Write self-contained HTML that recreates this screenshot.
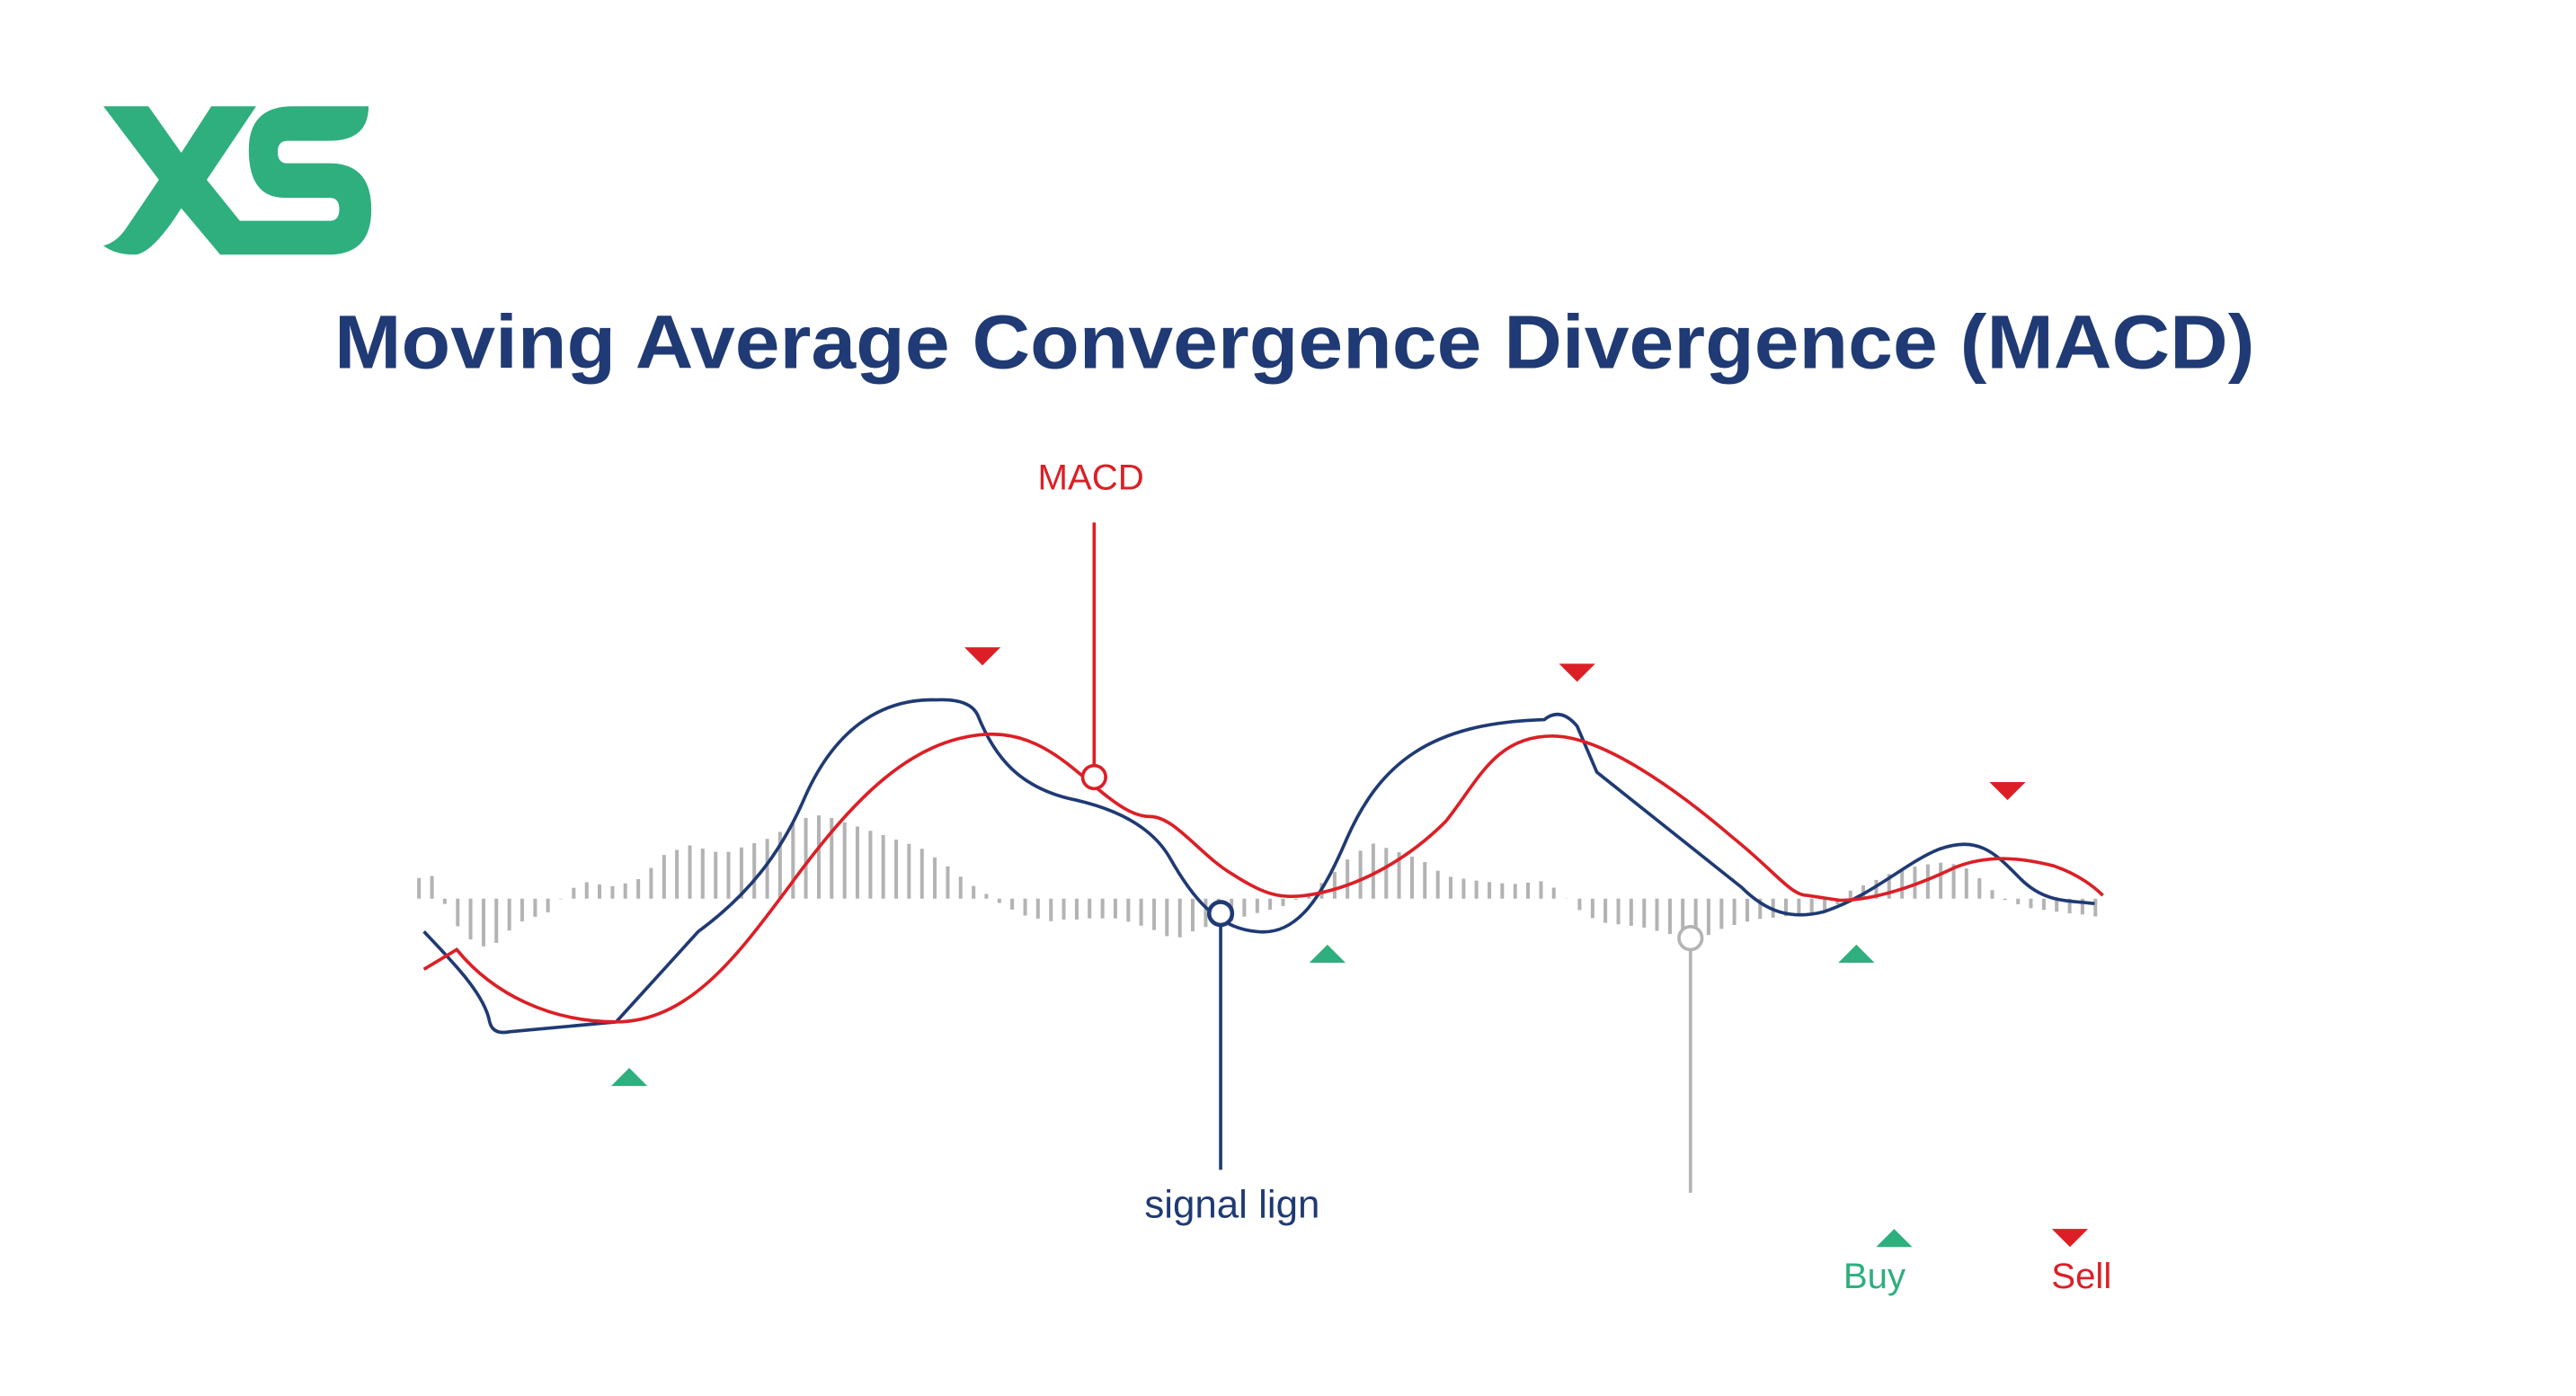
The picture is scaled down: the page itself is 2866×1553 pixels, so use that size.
<!DOCTYPE html>
<html><head><meta charset="utf-8"><style>
html,body{margin:0;padding:0;background:#fff;}
svg{display:block;}
</style></head><body>
<svg id="s" width="2866" height="1553" viewBox="0 0 1568 849.7" xmlns="http://www.w3.org/2000/svg">
<rect width="1568" height="849.7" fill="#fff"/>
<!-- logo -->
<path fill="#2eaf7d" d="M62.9,64.7 L90.3,64.7 L110.3,93 L128.6,64.7 L155.9,64.7 L125.8,109.4 L145.9,134.4 L200.6,134.4 Q206.5,134.4 206.5,127.4 Q206.5,120.4 200.6,120.4 L173.2,120.4 Q151.4,120.4 151.4,91.2 Q151.4,64.7 178,64.7 L224.3,64.7 Q224.3,85.7 200.6,85.7 L175,85.7 Q169,85.7 169,92.5 Q169,99.4 175,99.4 L200.6,99.4 Q226,99.4 226,127.6 Q226,155 200,155 L134,155 L110.3,126.7 Q100,143 92,150 Q86,155 82,155 Q70,155 62.9,149.5 Q70,148 76,140 L96.7,109.4 Z"/>
<text x="788" y="224" text-anchor="middle" font-family="Liberation Sans, sans-serif" font-weight="bold" font-size="46" fill="#1f3a74" textLength="1169" lengthAdjust="spacingAndGlyphs">Moving Average Convergence Divergence (MACD)</text>
<g id="hist" stroke="#b3b3b3" stroke-width="2.2"></g>
<!-- lines -->
<path d="M258,567 C275,585 295,605 298,622 Q300,630 310,628 L375,622 L425,567 C455,545 475,520 490,485 C510,440 540,425 570,426 Q590,425 595,435 C605,460 620,480 655,487 C690,495 705,510 712,522 C725,545 740,565 765,567 C790,570 805,545 820,510 C840,465 870,440 940,438 Q950,430 960,442 L972,470 L1060,540 C1075,555 1090,560 1110,555 C1140,545 1160,525 1180,517 C1205,508 1215,520 1230,535 C1245,550 1260,548 1275,550" fill="none" stroke="#1f3a74" stroke-width="2"/>
<path d="M258,590 L278,578 C300,605 335,622 375,622 C420,622 450,580 480,540 C520,485 555,450 600,447 C630,445 650,465 668,480 C680,490 690,497 700,497 C715,497 730,520 750,532 C770,545 780,547 795,545 C830,540 860,520 880,500 C900,475 910,448 945,448 C975,448 1020,480 1055,510 C1080,530 1090,545 1100,545 L1120,548 C1140,548 1165,540 1190,528 C1210,520 1230,522 1250,527 C1265,532 1275,540 1280,545" fill="none" stroke="#dc1f26" stroke-width="2"/>
<!-- annotations -->
<line x1="666" y1="318" x2="666" y2="466" stroke="#dc1f26" stroke-width="2"/>
<circle cx="666" cy="473" r="7" fill="#fff" stroke="#dc1f26" stroke-width="2"/>
<text x="664" y="298" text-anchor="middle" font-family="Liberation Sans, sans-serif" font-size="22" fill="#dc1f26">MACD</text>
<line x1="743" y1="563" x2="743" y2="712" stroke="#1f3a74" stroke-width="2"/>
<circle cx="743" cy="556" r="7" fill="#fff" stroke="#1f3a74" stroke-width="2.5"/>
<text x="750" y="741" text-anchor="middle" font-family="Liberation Sans, sans-serif" font-size="24" fill="#1f3a74">signal lign</text>
<line x1="1029" y1="578" x2="1029" y2="726" stroke="#b3b3b3" stroke-width="2"/>
<circle cx="1029" cy="571" r="7" fill="#fff" stroke="#b3b3b3" stroke-width="2"/>
<g fill="#dc1f26">
<polygon points="587,394 609,394 598,405"/>
<polygon points="949,404 971,404 960,415"/>
<polygon points="1211,476 1233,476 1222,487"/>
<polygon points="1249,748 1271,748 1260,759"/>
</g>
<g fill="#2eaf7d">
<polygon points="372,661 394,661 383,650"/>
<polygon points="797,586 819,586 808,575"/>
<polygon points="1119,586 1141,586 1130,575"/>
<polygon points="1142,759 1164,759 1153,748"/>
</g>
<text x="1141" y="784" text-anchor="middle" font-family="Liberation Sans, sans-serif" font-size="22" fill="#2eaf7d">Buy</text>
<text x="1267" y="784" text-anchor="middle" font-family="Liberation Sans, sans-serif" font-size="22" fill="#dc1f26">Sell</text>
</svg>
<script>
var k=[[255,15],[262,18],[268,5],[275,-10],[283,-20],[290,-25],[298,-28],[305,-22],[312,-15],[320,-10],[328,-8],[336,-5],[343,-2],[350,5],[358,8],[366,6],[375,5],[390,10],[405,25],[420,30],[440,25],[455,30],[470,35],[485,45],[500,50],[515,45],[530,40],[545,35],[560,30],[575,20],[590,8],[600,2],[610,-5],[625,-12],[640,-15],[660,-12],[680,-12],[700,-18],[715,-25],[730,-18],[745,-15],[760,-10],[780,-5],[800,5],[820,25],[835,35],[850,30],[865,25],[880,15],[900,12],[920,10],[940,12],[950,5],[960,-5],[975,-12],[1000,-15],[1020,-20],[1035,-22],[1050,-15],[1070,-10],[1090,-8],[1110,-5],[1125,2],[1140,8],[1155,15],[1170,18],[1185,20],[1200,15],[1210,5],[1220,-3],[1235,-8],[1250,-10],[1265,-12],[1277,-12]];
function h(x){for(var i=0;i<k.length-1;i++){if(x>=k[i][0]&&x<=k[i+1][0]){var t=(x-k[i][0])/(k[i+1][0]-k[i][0]);return k[i][1]+t*(k[i+1][1]-k[i][1]);}}return 0;}
var g=document.getElementById('hist'),s='',b=547;
for(var x=255;x<=1278;x+=7.85){var v=h(x);v+=((Math.round(x*7)%5)-2)*1.2;s+='<line x1="'+x.toFixed(1)+'" x2="'+x.toFixed(1)+'" y1="'+b+'" y2="'+(b-v).toFixed(1)+'"/>';}
g.innerHTML=s;
</script>
</body></html>
